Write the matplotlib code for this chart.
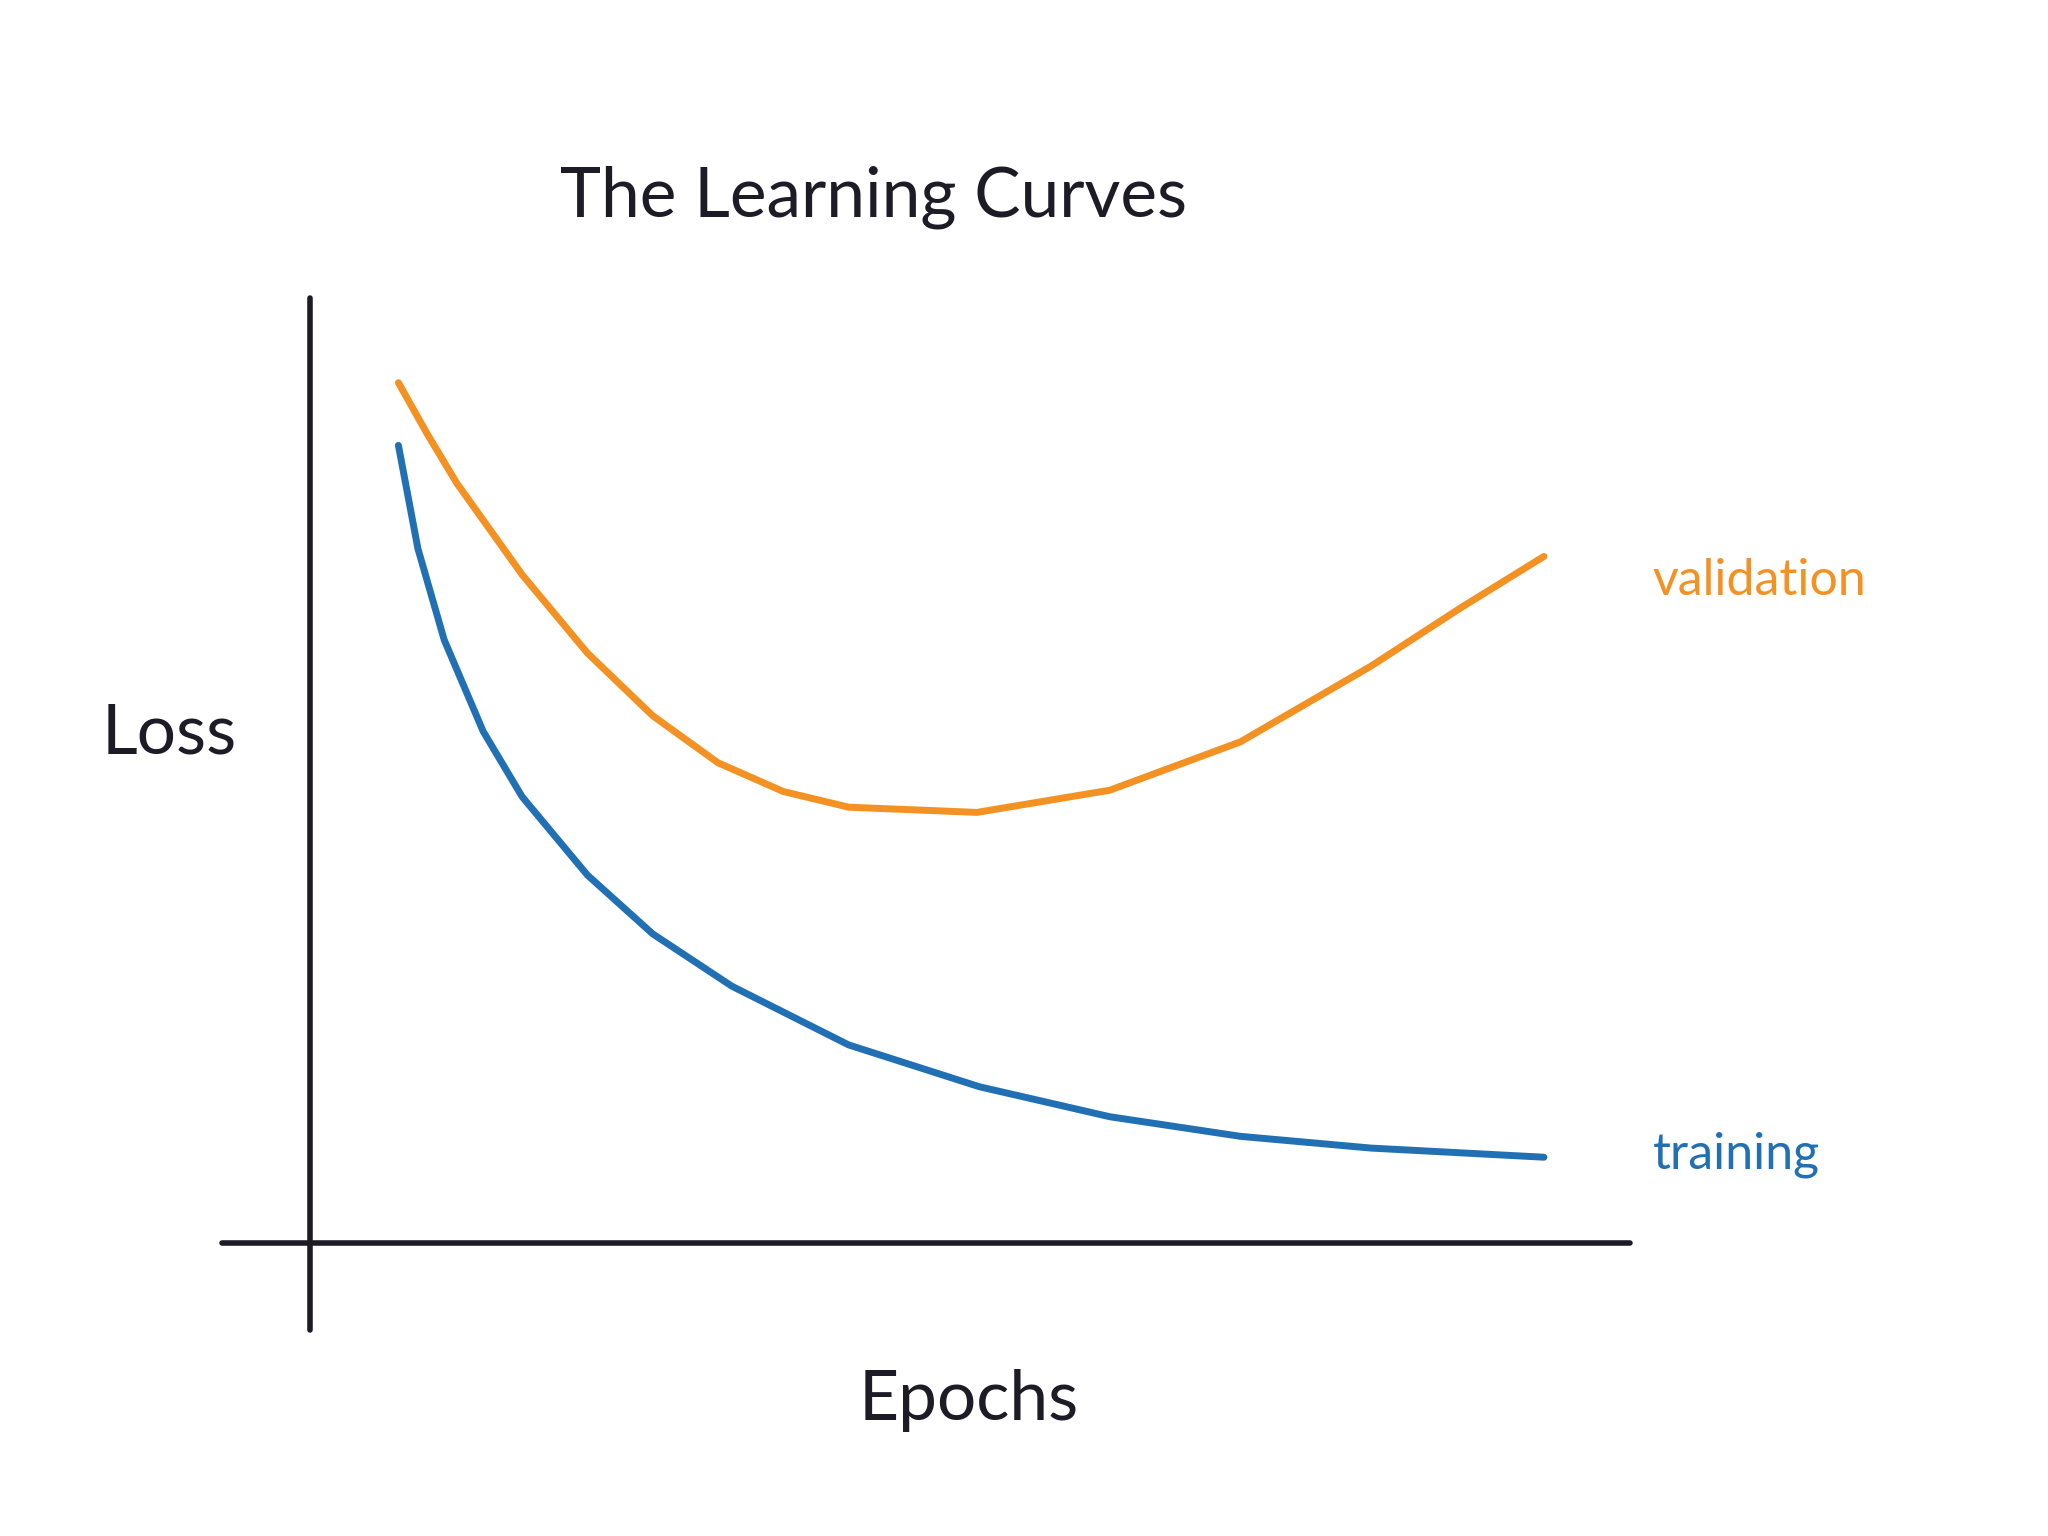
import matplotlib
matplotlib.use("Agg")
import matplotlib.pyplot as plt

plt.rcParams['font.family'] = ['Lato', 'DejaVu Sans']

epochs = [0, 1.7, 4.0, 7.4, 10.8, 16.5, 22.2, 29.1, 39.3, 50.7, 62.1, 73.5, 84.9, 100]
training = [6.11, 5.32, 4.62, 3.92, 3.42, 2.82, 2.37, 1.97, 1.52, 1.20, 0.97, 0.82, 0.73, 0.66]

epochs_val = [0, 2.5, 5.1, 10.8, 16.5, 22.2, 27.9, 33.6, 39.3, 50.5, 62.1, 73.5, 84.9, 92.8, 100]
validation = [6.59, 6.20, 5.82, 5.12, 4.52, 4.04, 3.68, 3.46, 3.34, 3.30, 3.47, 3.84, 4.42, 4.87, 5.26]

fig = plt.figure(figsize=(20.48, 15.36), dpi=100)
ax = fig.add_axes([0, 0, 1, 1])
ax.set_xlim(-34.78, 144.0)
ax.set_ylim(-2.24, 9.52)
ax.axis('off')

axis_color = '#1c1b26'
ax.plot([-7.75, -7.75], [7.24, -0.66], color=axis_color, lw=4, solid_capstyle='round')
ax.plot([-15.4, 107.5], [0, 0], color=axis_color, lw=4, solid_capstyle='round')

ax.plot(epochs, training, color='#2270b4', lw=5, solid_capstyle='round')
ax.plot(epochs_val, validation, color='#f39122', lw=5, solid_capstyle='round')

ax.text(41.5, 8.01, 'The Learning Curves', ha='center', va='center', fontsize=50, color=axis_color)
ax.text(-20.0, 3.9, 'Loss', ha='center', va='center', fontsize=50, color=axis_color)
ax.text(49.8, -1.2, 'Epochs', ha='center', va='center', fontsize=50, color=axis_color)
ax.text(109.5, 5.07, 'validation', ha='left', va='center', fontsize=36, color='#f39122')
ax.text(109.5, 0.68, 'training', ha='left', va='center', fontsize=36, color='#2270b4')

fig.savefig('out.png', dpi=100)
